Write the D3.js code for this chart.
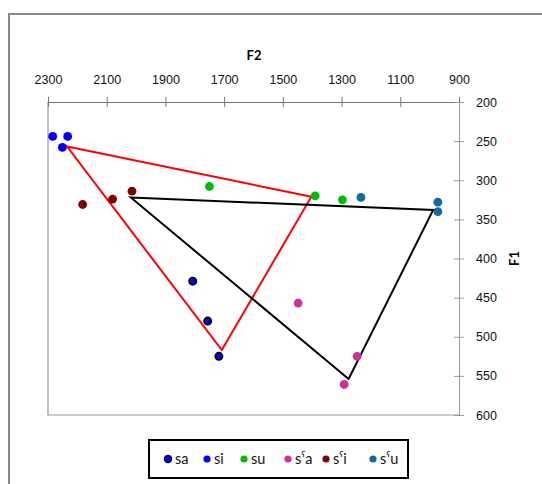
<!DOCTYPE html>
<html><head><meta charset="utf-8">
<script src="https://cdn.jsdelivr.net/npm/d3@7"></script>
<style>
body{margin:0;background:#fff;}
svg{display:block;font-family:Lato,"Open Sans",sans-serif;}
</style></head><body>
<svg id="c" width="542" height="484"></svg>
<script>
const xTicks = [2300, 2100, 1900, 1700, 1500, 1300, 1100, 900];
const yTicks = [200, 250, 300, 350, 400, 450, 500, 550, 600];
const seriesNames = ["sa", "si", "su", "sˤa", "sˤi", "sˤu"];
const seriesColors = ["#0000ff", "#0000ff", "#00bb00", "#cc3399", "#7f0000", "#1369a0"];
const sa  = [[1807, 429], [1756, 480], [1718, 525]];
const si  = [[2284, 244], [2233, 244], [2251, 258]];
const su  = [[1750, 308], [1390, 320], [1297, 325]];
const sPa = [[1448, 457], [1247, 525], [1291, 561]];
const sPi = [[2182, 331], [2080, 324], [2014, 314]];
const sPu = [[1234, 322], [972, 328], [972, 340]];
const plainTriangle = [[2235, 257], [1403, 321], [1708, 517]];
const emphaticTriangle = [[2018, 322], [988, 338], [1276, 554]];

const seriesData = [sa, si, su, sPa, sPi, sPu];
const svg = d3.select("#c");
const x = d3.scaleLinear().domain([2300, 900]).range([48, 459]);
const y = d3.scaleLinear().domain([200, 600]).range([102, 415]);

// outer chart border
svg.append("rect").attr("x", 9).attr("y", 14).attr("width", 560).attr("height", 500)
  .attr("fill", "none").attr("stroke", "#888").attr("stroke-width", 2);

// plot area border (left & bottom)
svg.append("path")
  .attr("d", `M${x(2300)},${y(200)}V${y(600)}H${x(900)}`)
  .attr("fill", "none").attr("stroke", "#999").attr("stroke-width", 1.2);

// top axis
const gx = svg.append("g").attr("transform", `translate(0,${y(200)})`)
  .call(d3.axisTop(x).tickValues(xTicks).tickFormat(d3.format("d")).tickSizeOuter(0));
gx.select(".domain").attr("stroke", "#777");
gx.selectAll(".tick line").attr("y1", 5).attr("y2", -5).attr("stroke", "#777");
gx.selectAll(".tick text").attr("y", -18).attr("font-size", 12.5).attr("fill", "#111");

// right axis
const gy = svg.append("g").attr("transform", `translate(${x(900)},0)`)
  .call(d3.axisRight(y).tickValues(yTicks).tickSizeOuter(0));
gy.select(".domain").attr("stroke", "#999");
gy.selectAll(".tick line").attr("x1", -5).attr("x2", 5).attr("stroke", "#999");
gy.selectAll(".tick text").attr("x", 17).attr("font-size", 12.5).attr("fill", "#111");

// axis titles
svg.append("text").attr("x", 254).attr("y", 60).attr("text-anchor", "middle")
  .attr("font-weight", "bold").attr("font-size", 13).text("F2");
svg.append("text").attr("transform", `translate(519,${(y(200)+y(600))/2}) rotate(-90)`)
  .attr("text-anchor", "middle").attr("font-weight", "bold").attr("font-size", 13).text("F1");

// triangles
const line = d3.line().x(d => x(d[0])).y(d => y(d[1])).curve(d3.curveLinearClosed);
svg.append("path").attr("d", line(plainTriangle)).attr("fill", "none")
  .attr("stroke", "#ff0000").attr("stroke-width", 2);
svg.append("path").attr("d", line(emphaticTriangle)).attr("fill", "none")
  .attr("stroke", "#000").attr("stroke-width", 2);

// points
seriesData.forEach((data, i) => {
  svg.append("g").selectAll("circle").data(data).join("circle")
    .attr("cx", d => x(d[0])).attr("cy", d => y(d[1]))
    .attr("r", i === 0 ? 3.6 : 4.4)
    .attr("fill", seriesColors[i])
    .attr("stroke", i === 0 ? "#000" : "none")
    .attr("stroke-width", i === 0 ? 1.8 : 0);
});

// legend
svg.append("rect").attr("x", 149).attr("y", 440).attr("width", 259).attr("height", 38)
  .attr("fill", "#fff").attr("stroke", "#000").attr("stroke-width", 2);
const legendX = [168, 207, 244, 288, 326, 373];
const lg = svg.append("g").selectAll("g").data(seriesNames).join("g")
  .attr("transform", (d, i) => `translate(${legendX[i]},459)`);
lg.append("circle").attr("r", 3.6).attr("fill", (d, i) => seriesColors[i])
  .attr("stroke", (d, i) => i === 0 ? "#000" : "none").attr("stroke-width", 1.2);
lg.append("text").attr("x", 7).attr("y", 5).attr("font-size", 14.5).attr("fill", "#111").text(d => d);
</script>
</body></html>
